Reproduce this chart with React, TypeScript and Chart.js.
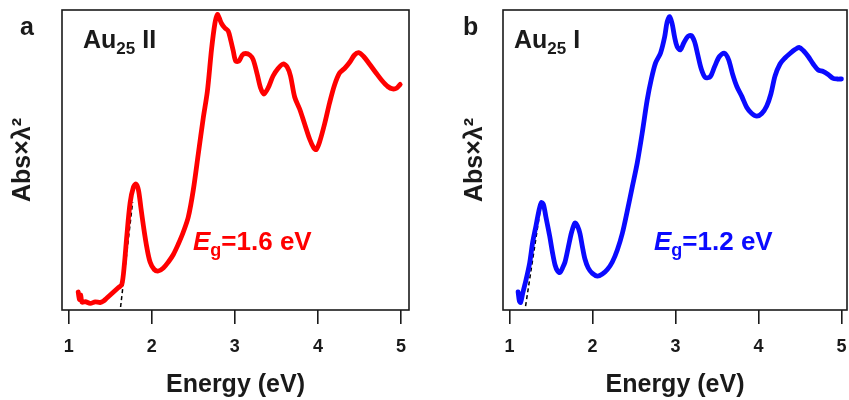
import React, { useEffect, useRef } from "react";
import { Chart, registerables } from "chart.js";

Chart.register(...registerables);

// ---------- data ----------
const xTicks = [1, 2, 3, 4, 5];

// Panel a: Au25 II
const energyA = [1.115, 1.13, 1.145, 1.16, 1.2, 1.26, 1.32, 1.38, 1.42, 1.46, 1.5, 1.56, 1.6, 1.64, 1.67, 1.7, 1.74, 1.78, 1.81, 1.84, 1.87, 1.9, 1.94, 1.98, 2.03, 2.08, 2.14, 2.2, 2.26, 2.32, 2.38, 2.44, 2.5, 2.56, 2.62, 2.67, 2.72, 2.76, 2.79, 2.81, 2.84, 2.88, 2.92, 2.95, 2.98, 3.01, 3.05, 3.09, 3.13, 3.18, 3.22, 3.27, 3.31, 3.35, 3.4, 3.46, 3.52, 3.58, 3.63, 3.67, 3.72, 3.78, 3.84, 3.9, 3.95, 3.98, 4.02, 4.08, 4.14, 4.2, 4.26, 4.32, 4.38, 4.44, 4.49, 4.55, 4.62, 4.7, 4.77, 4.84, 4.9, 4.95, 4.99];
const absA = [0.06, 0.035, 0.05, 0.026, 0.028, 0.022, 0.027, 0.025, 0.03, 0.04, 0.05, 0.065, 0.075, 0.085, 0.15, 0.247, 0.358, 0.41, 0.42, 0.4, 0.34, 0.28, 0.21, 0.16, 0.135, 0.13, 0.14, 0.16, 0.185, 0.22, 0.26, 0.31, 0.4, 0.52, 0.64, 0.73, 0.87, 0.955, 0.985, 0.975, 0.955, 0.94, 0.93, 0.9, 0.865, 0.83, 0.83, 0.85, 0.855, 0.85, 0.835, 0.785, 0.74, 0.72, 0.74, 0.78, 0.805, 0.82, 0.81, 0.78, 0.71, 0.67, 0.62, 0.57, 0.54, 0.535, 0.56, 0.62, 0.69, 0.75, 0.79, 0.805, 0.825, 0.85, 0.858, 0.845, 0.82, 0.79, 0.765, 0.745, 0.737, 0.74, 0.752];
const tangentAx = [1.625, 1.77];
const tangentAy = [0.01, 0.36];

// Panel b: Au25 I
const energyB = [1.105, 1.12, 1.135, 1.16, 1.2, 1.245, 1.28, 1.32, 1.355, 1.385, 1.41, 1.44, 1.485, 1.52, 1.55, 1.58, 1.61, 1.64, 1.67, 1.71, 1.75, 1.79, 1.82, 1.85, 1.88, 1.91, 1.95, 2.0, 2.06, 2.12, 2.18, 2.24, 2.3, 2.36, 2.42, 2.48, 2.54, 2.6, 2.66, 2.71, 2.76, 2.82, 2.87, 2.9, 2.93, 2.96, 2.99, 3.02, 3.06, 3.1, 3.15, 3.19, 3.23, 3.27, 3.31, 3.36, 3.42, 3.47, 3.53, 3.59, 3.64, 3.69, 3.74, 3.8, 3.86, 3.92, 3.98, 4.04, 4.1, 4.15, 4.2, 4.26, 4.32, 4.38, 4.44, 4.49, 4.54, 4.6, 4.66, 4.72, 4.78, 4.84, 4.9, 4.95, 5.0];
const absB = [0.06, 0.03, 0.025, 0.055, 0.1, 0.158, 0.225, 0.28, 0.33, 0.358, 0.352, 0.31, 0.247, 0.19, 0.15, 0.13, 0.125, 0.14, 0.16, 0.21, 0.26, 0.29, 0.28, 0.255, 0.21, 0.17, 0.14, 0.122, 0.113, 0.12, 0.135, 0.16, 0.2, 0.255, 0.33, 0.41, 0.49, 0.59, 0.7, 0.77, 0.823, 0.856, 0.91, 0.96, 0.978, 0.955, 0.91, 0.878, 0.867, 0.89, 0.912, 0.915, 0.895, 0.85, 0.805, 0.775, 0.778, 0.81, 0.845, 0.856, 0.835, 0.785, 0.745, 0.712, 0.675, 0.655, 0.646, 0.655, 0.68, 0.72, 0.78, 0.82, 0.84, 0.855, 0.868, 0.875, 0.865, 0.845, 0.82, 0.8, 0.795, 0.785, 0.772, 0.77, 0.77];
const tangentBx = [1.195, 1.385];
const tangentBy = [0.013, 0.358];

const xTitle = "Energy (eV)";
const yTitle = "Abs×λ²";

const FONT = "Arial, 'Liberation Sans', Helvetica, sans-serif";
const INK = "#1a1a1a";

const zip = (xs: number[], ys: number[]) => xs.map((x, i) => ({ x, y: ys[i] }));

const boxPlugin = {
  id: "box",
  afterDraw(chart: any) {
    const { ctx, chartArea } = chart;
    ctx.save();
    ctx.strokeStyle = INK;
    ctx.lineWidth = 1.6;
    ctx.strokeRect(chartArea.left, chartArea.top, chartArea.right - chartArea.left, chartArea.bottom - chartArea.top);
    ctx.restore();
  },
};

type PanelProps = {
  width: number;
  xs: number[];
  ys: number[];
  tx: number[];
  ty: number[];
  color: string;
  xMin: number;
  xMax: number;
  yAxisWidth: number;
  yTitlePad: number;
  padRight: number;
};

function Panel(p: PanelProps) {
  const ref = useRef<HTMLCanvasElement | null>(null);
  useEffect(() => {
    if (!ref.current) return;
    const chart = new Chart(ref.current, {
      type: "line",
      data: {
        datasets: [
          {
            data: zip(p.xs, p.ys),
            borderColor: p.color,
            borderWidth: 4.8,
            pointRadius: 0,
            tension: 0.3,
            borderCapStyle: "round",
            borderJoinStyle: "round",
            fill: false,
          },
          {
            data: zip(p.tx, p.ty),
            borderColor: "#000",
            borderWidth: 1.5,
            borderDash: [4, 3],
            pointRadius: 0,
            tension: 0,
            fill: false,
          },
        ],
      },
      plugins: [boxPlugin],
      options: {
        responsive: false,
        animation: false,
        devicePixelRatio: 1,
        layout: { padding: { top: 10, right: p.padRight, bottom: 0, left: 0 } },
        plugins: { legend: { display: false }, tooltip: { enabled: false } },
        scales: {
          x: {
            type: "linear",
            min: p.xMin,
            max: p.xMax,
            afterBuildTicks: (s: any) => {
              s.ticks = xTicks.map((v) => ({ value: v }));
            },
            afterFit: (s: any) => {
              s.height = 90;
              s.paddingLeft = 0;
              s.paddingRight = 0;
            },
            border: { display: false },
            grid: { drawOnChartArea: false, drawTicks: true, tickLength: 14, color: INK, lineWidth: 1.6 },
            ticks: {
              padding: 12,
              color: INK,
              font: { family: FONT, size: 18, weight: "bold" },
              maxRotation: 0,
              callback: (v: any) => String(v),
            },
            title: {
              display: true,
              text: xTitle,
              color: INK,
              font: { family: FONT, size: 25, weight: "bold" },
              padding: { top: 0, bottom: 0 },
            },
          },
          y: {
            type: "linear",
            min: 0,
            max: 1,
            afterFit: (s: any) => {
              s.width = p.yAxisWidth;
              s.paddingTop = 0;
              s.paddingBottom = 0;
            },
            border: { display: false },
            grid: { display: false },
            ticks: { display: false },
            title: {
              display: true,
              text: yTitle,
              color: INK,
              font: { family: FONT, size: 25, weight: "bold" },
              padding: { top: p.yTitlePad, bottom: 0 },
            },
          },
        },
      } as any,
    });
    return () => chart.destroy();
  }, []);
  return <canvas ref={ref} width={p.width} height={400} style={{ display: "block", width: p.width, height: 400 }} />;
}

function Label(props: { left: number; baseline: number; size: number; color?: string; children: React.ReactNode }) {
  const top = props.baseline - 0.8465 * props.size;
  return (
    <div
      style={{
        position: "absolute",
        left: props.left,
        top,
        fontFamily: FONT,
        fontWeight: "bold",
        fontSize: props.size,
        lineHeight: `${props.size}px`,
        color: props.color || INK,
        whiteSpace: "nowrap",
      }}
    >
      {props.children}
    </div>
  );
}

const subStyle = (size: number): React.CSSProperties => ({
  fontSize: size,
  verticalAlign: "baseline",
  position: "relative",
  top: Math.round(size * 0.35),
});

export default function App() {
  const red = "#ff0000";
  const blue = "#0a0aff";
  return (
    <div style={{ position: "absolute", left: 0, top: 0, width: 849, height: 400, background: "#fff", overflow: "hidden" }}>
      <div style={{ position: "absolute", left: 0, top: 0 }}>
        <Panel width={424} xs={energyA} ys={absA} tx={tangentAx} ty={tangentAy} color={red} xMin={0.92} xMax={5.096} yAxisWidth={62} yTitlePad={8} padRight={15} />
      </div>
      <div style={{ position: "absolute", left: 424, top: 0 }}>
        <Panel width={425} xs={energyB} ys={absB} tx={tangentBx} ty={tangentBy} color={blue} xMin={0.923} xMax={5.067} yAxisWidth={79} yTitlePad={36} padRight={2} />
      </div>

      <Label left={20} baseline={35} size={25}>a</Label>
      <Label left={83} baseline={48} size={25}>
        Au<span style={subStyle(17)}>25</span> II
      </Label>
      <Label left={193} baseline={250} size={26} color={red}>
        <i>E</i><span style={subStyle(18)}>g</span>=1.6 eV
      </Label>

      <Label left={463} baseline={35} size={25}>b</Label>
      <Label left={514} baseline={48} size={25}>
        Au<span style={subStyle(17)}>25</span> I
      </Label>
      <Label left={654} baseline={250} size={26} color={blue}>
        <i>E</i><span style={subStyle(18)}>g</span>=1.2 eV
      </Label>
    </div>
  );
}
